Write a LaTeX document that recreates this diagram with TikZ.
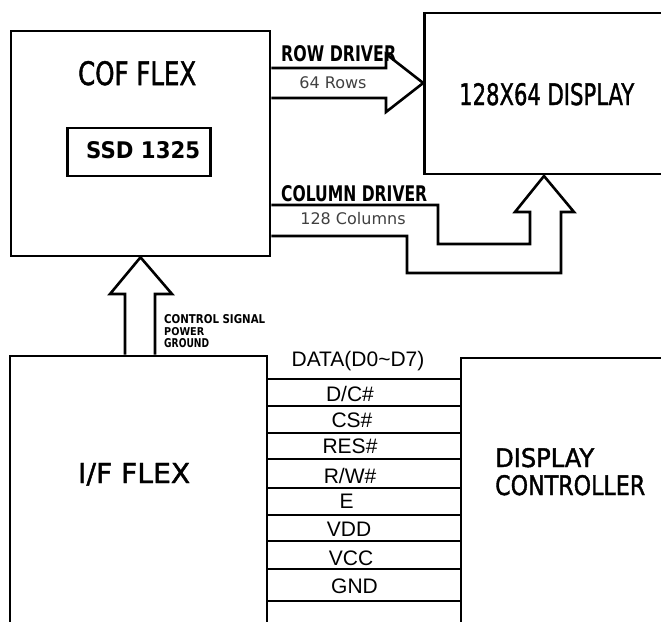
\documentclass[tikz,border=0pt]{standalone}
\usepackage{fontspec}
\setmainfont{Liberation Sans}
\newfontfamily\cadfont{DejaVu Sans}
\newfontfamily\cadmid{DejaVu Sans}[FakeBold=1.6]
\newfontfamily\notefont{DejaVu Sans}
\usetikzlibrary{calc}

% CAD style titles: width and cap height given in px
\newcommand{\cadlabel}[3]{\resizebox{#1pt}{#2pt}{\cadfont\bfseries #3}}
\newcommand{\cadlight}[3]{\resizebox{#1pt}{#2pt}{\cadmid #3}}

\begin{document}
\begin{tikzpicture}[x=1pt, y=-1pt,
    box/.style={draw, line width=2.6pt, inner sep=0pt},
    arrowline/.style={line width=2.6pt, line join=miter},
    rowline/.style={line width=2.2pt},
    cad/.style={inner sep=0pt, anchor=base west},
    sig/.style={inner sep=0pt, font=\fontsize{21}{21}\selectfont},
    note/.style={inner sep=0pt, text=black!75, font=\notefont\fontsize{16}{16}\selectfont}]
    \useasboundingbox (0,0) rectangle (661,621);
    \clip (0,0) rectangle (661,621);

    % blocks
    \node[box, minimum width=259pt, minimum height=225pt] (cof) at (140.5,143.5) {};
    \node[box, minimum width=143.5pt, minimum height=48pt] (ssd) at (139,152) {};
    \node[box, minimum width=275pt, minimum height=161pt] (disp) at (562,93.5) {};
    \node[box, minimum width=257pt, minimum height=304pt] (iff) at (138.5,508) {};
    \node[box, minimum width=260pt, minimum height=304pt] (ctrl) at (591,510) {};

    \node[cad] (coftitle) at (78,85) {\cadlight{118}{24}{COF FLEX}};
    \node[cad] (ssdtitle) at (86,158) {\cadlabel{114}{17}{SSD 1325}};
    \node[cad] (disptitle) at (459,105) {\cadlight{175}{22}{128X64 DISPLAY}};
    \node[cad] (ifftitle) at (78,483) {\cadlight{112}{20}{I/F FLEX}};
    \node[cad] (ctrltitle) at (495,467) {\cadlight{99}{19}{DISPLAY}};
    \node[cad] (ctrltitleb) at (495,495) {\cadlight{150}{20}{CONTROLLER}};

    % row driver
    \draw[arrowline] (cof.east |- 0,68) -- (386,68) -- (386,54) -- (disp.west |- 0,83)
        -- (386,112) -- (386,98) -- (cof.east |- 0,98);
    \node[cad] (rowtitle) at (281,61) {\cadlabel{115}{16}{ROW DRIVER}};
    \node[note] (rows) at (333,83) {64 Rows};

    % column driver
    \draw[arrowline] (cof.east |- 0,205) -- (438,205) -- (438,244) -- (530,244) -- (530,212)
        -- (515,212) -- (544,176) -- (574,212) -- (561,212) -- (561,273) -- (407,273)
        -- (407,236) -- (cof.east |- 0,236);
    \node[cad] (coltitle) at (281,201) {\cadlabel{146}{16}{COLUMN DRIVER}};
    \node[note] (cols) at (353,219) {128 Columns};

    % control signal, power, ground
    \draw[arrowline] (125,0 |- iff.north) -- (125,294) -- (110,294) -- (cof.south)
        -- (172,294) -- (155,294) -- (155,0 |- iff.north);
    \node[cad] (ctlsig) at (164,323) {\cadlabel{101}{9}{CONTROL SIGNAL}};
    \node[cad] (power) at (164,335) {\cadlabel{40}{8}{POWER}};
    \node[cad] (ground) at (164,347) {\cadlabel{45}{9}{GROUND}};

    % interface lines
    \foreach \y in {379,406,433,459,488,515,541,569,601}
        \draw[rowline] (iff.east |- 0,\y) -- (ctrl.west |- 0,\y);
    \node[sig] (data) at (358,361) {DATA(D0\textasciitilde D7)};
    \node[sig] (dc) at (350,393.5) {D/C\#};
    \node[sig] (cs) at (352,420) {CS\#};
    \node[sig] (res) at (350,446.5) {RES\#};
    \node[sig] (rw) at (350,475.5) {R/W\#};
    \node[sig] (en) at (346.5,501) {E};
    \node[sig] (vdd) at (349,529.5) {VDD};
    \node[sig] (vcc) at (351,558) {VCC};
    \node[sig] (gnd) at (354.5,586) {GND};
\end{tikzpicture}
\end{document}
